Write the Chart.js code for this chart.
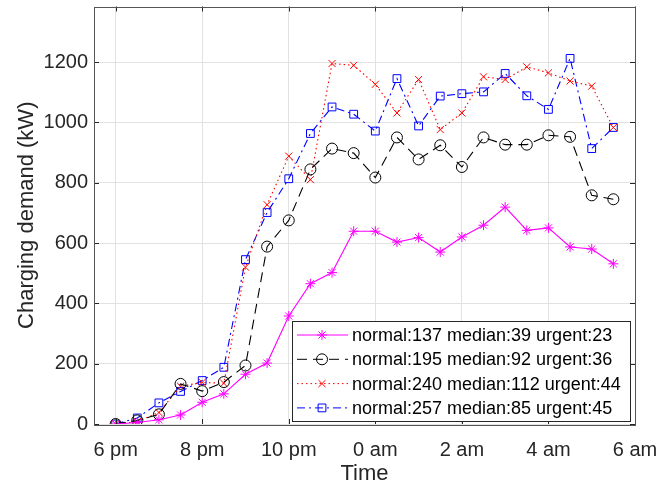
<!DOCTYPE html>
<html>
<head>
<meta charset="utf-8">
<script src="https://cdn.jsdelivr.net/npm/chart.js@4.4.1/dist/chart.umd.min.js"></script>
<style>
  html, body { margin: 0; padding: 0; background: #fff; }
</style>
</head>
<body>
<canvas id="myChart" width="670" height="490"></canvas>
<script>
// hours after 6 pm
const hours = [0, 0.5, 1, 1.5, 2, 2.5, 3, 3.5, 4, 4.5, 5, 5.5, 6, 6.5, 7, 7.5, 8, 8.5, 9, 9.5, 10, 10.5, 11, 11.5];

const xTicks = [0, 2, 4, 6, 8, 10, 12];
const xTickLabels = ["6 pm", "8 pm", "10 pm", "0 am", "2 am", "4 am", "6 am"];
const yTicks = [0, 200, 400, 600, 800, 1000, 1200];

const seriesNames = [
  "normal:137 median:39 urgent:23",
  "normal:195 median:92 urgent:36",
  "normal:240 median:112 urgent:44",
  "normal:257 median:85 urgent:45"
];

const demand1 = [0, 5, 14, 30, 72, 100, 165, 202, 358, 465, 502, 639, 639, 603, 618, 570, 620, 659, 719, 642, 650, 587, 580, 531];
const demand2 = [0, 12, 32, 133, 109, 139, 194, 588, 675, 844, 913, 898, 817, 950, 877, 924, 852, 950, 926, 926, 957, 952, 758, 745];
const demand3 = [0, 8, 38, 125, 138, 135, 520, 727, 888, 810, 1195, 1189, 1126, 1031, 1142, 976, 1031, 1151, 1142, 1184, 1164, 1137, 1120, 983];
const demand4 = [0, 20, 70, 108, 144, 188, 545, 701, 813, 963, 1051, 1027, 971, 1145, 988, 1087, 1095, 1101, 1162, 1088, 1043, 1212, 913, 983];

const toPoints = function (vals) {
  return vals.map((v, i) => ({ x: hours[i], y: v }));
};

const styles = [
  { color: "#ff00ff", dash: [], marker: "star", radius: 5 },
  { color: "#000000", dash: [10, 6], marker: "circle", radius: 5.5 },
  { color: "#ff0000", dash: [1.5, 3], marker: "crossRot", radius: 5 },
  { color: "#0000ff", dash: [8, 4, 2, 4], marker: "rect", radius: 5.5 }
];
const allData = [demand1, demand2, demand3, demand4];

const FONT = "'Liberation Sans', Arial, sans-serif";

const datasets = allData.map((vals, k) => ({
  label: seriesNames[k],
  data: toPoints(vals),
  borderColor: styles[k].color,
  borderWidth: 1.1,
  borderDash: styles[k].dash,
  pointStyle: styles[k].marker,
  pointRadius: styles[k].radius,
  pointBorderColor: styles[k].color,
  pointBackgroundColor: "rgba(0,0,0,0)",
  pointBorderWidth: 1,
  fill: false,
  tension: 0
}));

const drawMarker = function (ctx, type, x, y, r) {
  ctx.beginPath();
  if (type === "circle") {
    ctx.arc(x, y, r, 0, Math.PI * 2);
  } else if (type === "rect") {
    const s = r * Math.SQRT1_2;
    ctx.rect(x - s, y - s, 2 * s, 2 * s);
  } else if (type === "crossRot") {
    const o = r * Math.SQRT1_2;
    ctx.moveTo(x - o, y - o); ctx.lineTo(x + o, y + o);
    ctx.moveTo(x - o, y + o); ctx.lineTo(x + o, y - o);
  } else if (type === "star") {
    const o = r * Math.SQRT1_2;
    ctx.moveTo(x - o, y - o); ctx.lineTo(x + o, y + o);
    ctx.moveTo(x - o, y + o); ctx.lineTo(x + o, y - o);
    ctx.moveTo(x, y - r); ctx.lineTo(x, y + r);
    ctx.moveTo(x - r, y); ctx.lineTo(x + r, y);
  }
  ctx.stroke();
};

// box, inward ticks and the legend, matlab style
const boxPlugin = {
  id: "boxPlugin",
  afterDraw(chart) {
    const ctx = chart.ctx;
    const a = chart.chartArea;
    const xs = chart.scales.x;
    const ys = chart.scales.y;
    ctx.save();
    ctx.strokeStyle = "#262626";
    ctx.lineWidth = 1;
    ctx.setLineDash([]);
    ctx.beginPath();
    xTicks.forEach((t) => {
      const px = Math.round(xs.getPixelForValue(t)) + 0.5;
      ctx.moveTo(px, a.bottom); ctx.lineTo(px, a.bottom - 5);
      ctx.moveTo(px, a.top); ctx.lineTo(px, a.top + 5);
    });
    yTicks.forEach((t) => {
      const py = Math.round(ys.getPixelForValue(t)) + 0.5;
      ctx.moveTo(a.left, py); ctx.lineTo(a.left + 5, py);
      ctx.moveTo(a.right, py); ctx.lineTo(a.right - 5, py);
    });
    ctx.stroke();
    ctx.strokeStyle = "#555";
    ctx.strokeRect(Math.round(a.left) + 0.5, Math.round(a.top) + 0.5, Math.round(a.right - a.left), Math.round(a.bottom - a.top));

    // legend
    const lx = 292, ly = 321, lw = 338, lh = 100;
    ctx.fillStyle = "#fff";
    ctx.fillRect(lx, ly, lw, lh);
    ctx.strokeStyle = "#262626";
    ctx.strokeRect(lx + 0.5, ly + 0.5, lw, lh);
    ctx.font = "18px " + FONT;
    ctx.textBaseline = "middle";
    ctx.textAlign = "left";
    seriesNames.forEach((name, k) => {
      const y = ly + 14 + k * 24.3;
      ctx.strokeStyle = styles[k].color;
      ctx.setLineDash(styles[k].dash);
      ctx.beginPath();
      ctx.moveTo(lx + 5, y); ctx.lineTo(lx + 56, y);
      ctx.stroke();
      ctx.setLineDash([]);
      drawMarker(ctx, styles[k].marker, lx + 30, y, styles[k].radius);
      ctx.fillStyle = "#000";
      ctx.fillText(name, lx + 60, y + 1);
    });
    ctx.restore();
  }
};

const noPad = function (scale) {
  scale.paddingTop = 0;
  scale.paddingBottom = 0;
  scale.paddingLeft = 0;
  scale.paddingRight = 0;
};

const config = {
  type: "line",
  data: { datasets: datasets },
  options: {
    responsive: false,
    animation: false,
    devicePixelRatio: 1,
    layout: { padding: { left: 0, top: 3, right: 35, bottom: 0 } },
    plugins: {
      legend: { display: false },
      tooltip: { enabled: false }
    },
    scales: {
      x: {
        type: "linear",
        min: -0.5,
        max: 12,
        afterBuildTicks: (scale) => {
          scale.ticks = xTicks.map((v) => ({ value: v }));
        },
        afterFit: (scale) => {
          scale.height = 66;
          noPad(scale);
        },
        ticks: {
          autoSkip: false,
          maxRotation: 0,
          padding: 14,
          color: "#262626",
          font: { family: FONT, size: 20 },
          callback: (v) => xTickLabels[xTicks.indexOf(v)]
        },
        grid: { color: "#e2e2e2", drawTicks: false },
        border: { display: false },
        title: {
          display: true,
          text: "Time",
          color: "#262626",
          font: { family: FONT, size: 22 },
          padding: { top: 0, bottom: 3 }
        }
      },
      y: {
        type: "linear",
        min: 0,
        max: 1384,
        afterBuildTicks: (scale) => {
          scale.ticks = yTicks.map((v) => ({ value: v }));
        },
        afterFit: (scale) => {
          scale.width = 94;
          noPad(scale);
        },
        ticks: {
          padding: 6,
          color: "#262626",
          font: { family: FONT, size: 20 },
          callback: (v) => String(v)
        },
        grid: { color: "#e2e2e2", drawTicks: false },
        border: { display: false },
        title: {
          display: true,
          text: "Charging demand (kW)",
          color: "#262626",
          font: { family: FONT, size: 22 },
          padding: { top: 14, bottom: 0 }
        }
      }
    }
  },
  plugins: [boxPlugin]
};

const myChart = new Chart(document.getElementById("myChart"), config);
</script>
</body>
</html>
